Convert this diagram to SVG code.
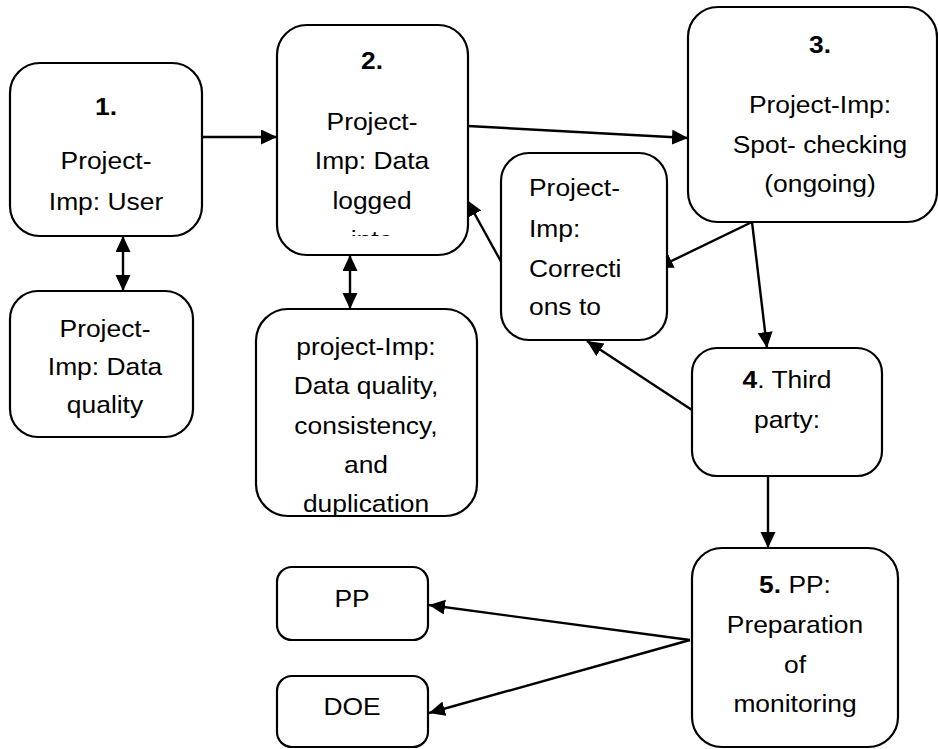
<svg xmlns="http://www.w3.org/2000/svg" width="938" height="749" viewBox="0 0 938 749">
  <style>
    .box { fill: #ffffff; stroke: #000000; stroke-width: 2.2; }
    .lbl { font-family: "Liberation Sans", Arial, sans-serif; font-size: 24px; fill: #000000; text-anchor: middle; }
    .lft { text-anchor: start; }
    .b { font-weight: bold; }
    .edge { stroke: #000000; stroke-width: 2.4; fill: none; marker-end: url(#head); }
    .both { marker-start: url(#head); }
  </style>
  <defs>
    <marker id="head" markerUnits="userSpaceOnUse" markerWidth="17" markerHeight="16" refX="16" refY="7.5" orient="auto-start-reverse">
      <path d="M0,0 L16,7.5 L0,15 Z" fill="#000000"/>
    </marker>
    <clipPath id="clip-n2">
      <rect x="277" y="25" width="191" height="211"/>
    </clipPath>
  </defs>

  <!-- connectors -->
  <g id="connectors">
    <line class="edge" x1="202" y1="137" x2="277" y2="137"/>
    <line class="edge both" x1="123" y1="236" x2="123" y2="291"/>
    <line class="edge both" x1="350" y1="255" x2="350" y2="309"/>
    <line class="edge" x1="468" y1="126" x2="688" y2="138"/>
    <line class="edge" x1="752" y1="222" x2="657" y2="268"/>
    <line class="edge" x1="752" y1="222" x2="767" y2="348"/>
    <line class="edge" x1="504" y1="267" x2="467" y2="200"/>
    <line class="edge" x1="692" y1="410" x2="587" y2="341"/>
    <line class="edge" x1="768" y1="476" x2="768" y2="548"/>
    <line class="edge" x1="690" y1="640" x2="429" y2="605"/>
    <line class="edge" x1="690" y1="640" x2="429" y2="713"/>
  </g>

  <!-- step 1 -->
  <g id="n1">
    <rect class="box" x="10" y="63" width="192" height="173" rx="30"/>
    <g transform="translate(106 0) scale(1.1 1)">
      <text class="lbl b" x="0" y="115">1.</text>
      <text class="lbl" x="0" y="169">Project-</text>
      <text class="lbl" x="0" y="210">Imp: User</text>
    </g>
  </g>

  <g id="n1q">
    <rect class="box" x="10" y="291" width="183" height="146" rx="28"/>
    <g transform="translate(105 0) scale(1.1 1)">
      <text class="lbl" x="0" y="337">Project-</text>
      <text class="lbl" x="0" y="375">Imp: Data</text>
      <text class="lbl" x="0" y="413">quality</text>
    </g>
  </g>

  <!-- step 2 -->
  <g id="n2">
    <rect class="box" x="277" y="25" width="191" height="230" rx="30"/>
    <g clip-path="url(#clip-n2)">
      <g transform="translate(372 0) scale(1.1 1)">
        <text class="lbl b" x="0" y="69">2.</text>
        <text class="lbl" x="0" y="130">Project-</text>
        <text class="lbl" x="0" y="169">Imp: Data</text>
        <text class="lbl" x="0" y="209">logged</text>
        <text class="lbl" x="0" y="248">into</text>
      </g>
    </g>
  </g>

  <g id="n2q">
    <rect class="box" x="256" y="309" width="221" height="207" rx="32"/>
    <g transform="translate(366 0) scale(1.1 1)">
      <text class="lbl" x="0" y="355">project-Imp:</text>
      <text class="lbl" x="0" y="394">Data quality,</text>
      <text class="lbl" x="0" y="434">consistency,</text>
      <text class="lbl" x="0" y="473">and</text>
      <text class="lbl" x="0" y="512">duplication</text>
    </g>
  </g>

  <!-- step 3 -->
  <g id="n3">
    <rect class="box" x="688" y="7" width="249" height="215" rx="30"/>
    <g transform="translate(820 0) scale(1.1 1)">
      <text class="lbl b" x="0" y="53">3.</text>
      <text class="lbl" x="0" y="113">Project-Imp:</text>
      <text class="lbl" x="0" y="153">Spot- checking</text>
      <text class="lbl" x="0" y="192">(ongoing)</text>
    </g>
  </g>

  <!-- corrections -->
  <g id="ncorr">
    <rect class="box" x="501" y="153" width="166" height="187" rx="28"/>
    <g transform="translate(529 0) scale(1.1 1)">
      <text class="lbl lft" x="0" y="196">Project-</text>
      <text class="lbl lft" x="0" y="237">Imp:</text>
      <text class="lbl lft" x="0" y="277">Correcti</text>
      <text class="lbl lft" x="0" y="315">ons to</text>
    </g>
  </g>

  <!-- step 4 -->
  <g id="n4">
    <rect class="box" x="692" y="348" width="190" height="128" rx="25"/>
    <g transform="translate(787 0) scale(1.1 1)">
      <text class="lbl" x="0" y="388"><tspan class="b">4</tspan>. Third</text>
      <text class="lbl" x="0" y="428">party:</text>
    </g>
  </g>

  <!-- step 5 -->
  <g id="n5">
    <rect class="box" x="692" y="548" width="206" height="199" rx="30"/>
    <g transform="translate(795 0) scale(1.1 1)">
      <text class="lbl" x="0" y="593"><tspan class="b">5.</tspan> PP:</text>
      <text class="lbl" x="0" y="633">Preparation</text>
      <text class="lbl" x="0" y="673">of</text>
      <text class="lbl" x="0" y="712">monitoring</text>
    </g>
  </g>

  <!-- recipients -->
  <g id="npp">
    <rect class="box" x="277" y="567" width="151" height="73" rx="15"/>
    <g transform="translate(352 0) scale(1.1 1)">
      <text class="lbl" x="0" y="607">PP</text>
    </g>
  </g>

  <g id="ndoe">
    <rect class="box" x="277" y="676" width="151" height="71" rx="15"/>
    <g transform="translate(352 0) scale(1.1 1)">
      <text class="lbl" x="0" y="715">DOE</text>
    </g>
  </g>
</svg>
